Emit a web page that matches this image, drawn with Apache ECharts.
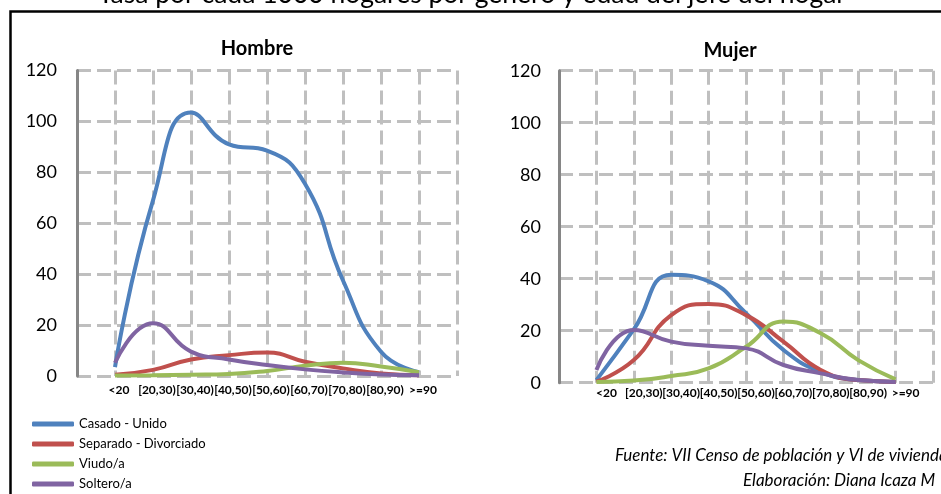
<!DOCTYPE html>
<html>
<head>
<meta charset="utf-8">
<script src="https://cdn.jsdelivr.net/npm/echarts@6/dist/echarts.min.js"></script>
<style>
html,body{margin:0;padding:0;background:#fff;}
#c{width:941px;height:494px;}
</style>
</head>
<body>
<div id="c"></div>
<script>
const mainTitle = 'Tasa por cada 1000 hogares por género y edad del jefe del hogar';
const panelTitles = ['Hombre', 'Mujer'];
const categories = ['<20','[20,30)','[30,40)','[40,50)','[50,60)','[60,70)','[70,80)','[80,90)','>=90'];
const seriesNames = ['Casado - Unido','Separado - Divorciado','Viudo/a','Soltero/a'];
const hombreCasado   = [3.5, 69, 103.5, 91, 88.5, 75.5, 37.5, 9.5, 1.5];
const hombreSeparado = [0.5, 2.4, 6.5, 8.2, 9.2, 5.6, 3, 1, 0.3];
const hombreViudo    = [0.2, 0.3, 0.5, 0.8, 2, 4, 5.2, 3.7, 1.5];
const hombreSoltero  = [5.2, 20.7, 9.6, 6.5, 4.3, 2.6, 1.4, 0.6, 0.3];
const mujerCasado    = [1, 20.5, 41.5, 39, 26.7, 12.6, 4.2, 1, 0.3];
const mujerSeparado  = [0.4, 8.7, 26, 30.3, 26, 15.8, 4.9, 1, 0.3];
const mujerViudo     = [0.3, 0.8, 2.6, 5.5, 13.8, 23.5, 19, 8.7, 1.3];
const mujerSoltero   = [4.9, 20.3, 15.8, 14.2, 13.2, 6.8, 3.6, 1, 0.3];
const sourceLines = ['Fuente: VII Censo de población y VI de vivienda', 'Elaboración: Diana Icaza M'];

const colors = ['#4F81BD','#C0504D','#9BBB59','#8064A2'];
const FONT = 'Lato, "Open Sans", sans-serif';
const gridColor = '#BFBFBF';

const chart = echarts.init(document.getElementById('c'), null, {renderer:'canvas'});

function xAxisFor(gi, pad, margin) {
  return {
    type: 'value', gridIndex: gi, min: 0, max: 10, interval: 1,
    axisLine: {show: false}, axisTick: {show: false},
    splitLine: {show: true, lineStyle: {color: gridColor, width: 3, type: [14, 6]}},
    axisLabel: {
      show: true, margin: margin, color: '#000', fontFamily: FONT, fontWeight: 'bold', fontSize: 12,
      padding: [0, 0, 0, pad],
      formatter: function (v) { return (v >= 1 && v <= categories.length) ? categories[v - 1] : ''; }
    }
  };
}
function yAxisFor(gi, margin) {
  return {
    type: 'value', gridIndex: gi, min: 0, max: 120, interval: 20,
    axisLine: {show: true, lineStyle: {color: '#868686', width: 3}},
    axisTick: {show: false},
    splitLine: {show: true, lineStyle: {color: gridColor, width: 3, type: [14, 6]}},
    axisLabel: {margin: margin, color: '#000', fontFamily: FONT, fontSize: 18}
  };
}
function mk(name, data, gi, ci) {
  return {
    name: name, type: 'line', xAxisIndex: gi, yAxisIndex: gi,
    data: data.map((v, i) => [i + 1, v]),
    smooth: 0.5, symbol: 'none', showSymbol: false,
    lineStyle: {color: colors[ci], width: 4},
    itemStyle: {color: colors[ci]}
  };
}
const hombre = [hombreCasado, hombreSeparado, hombreViudo, hombreSoltero];
const mujer = [mujerCasado, mujerSeparado, mujerViudo, mujerSoltero];
const series = [];
hombre.forEach((d, i) => series.push(mk(seriesNames[i], d, 0, i)));
mujer.forEach((d, i) => series.push(mk(seriesNames[i], d, 1, i)));

chart.setOption({
  animation: false,
  backgroundColor: '#fff',
  textStyle: {fontFamily: FONT},
  title: [
    {text: panelTitles[0], left: 252, top: 44, textAlign: 'center', textVerticalAlign: 'middle',
     textStyle: {fontFamily: FONT, fontWeight: 'bold', fontSize: 20, color: '#000'}},
    {text: panelTitles[1], left: 725, top: 46, textAlign: 'center', textVerticalAlign: 'middle',
     textStyle: {fontFamily: FONT, fontWeight: 'bold', fontSize: 20, color: '#000'}}
  ],
  grid: [
    {left: 77, top: 70.5, width: 380, height: 305.5},
    {left: 559, top: 70.7, width: 374, height: 312}
  ],
  xAxis: [xAxisFor(0, 8, 8), xAxisFor(1, 20, 4)],
  yAxis: [yAxisFor(0, 20), yAxisFor(1, 18)],
  legend: {
    orient: 'vertical', left: 32, top: 417, height: 120, itemWidth: 42, itemHeight: 5, itemGap: 6,
    icon: 'roundRect', padding: 0,
    data: seriesNames,
    textStyle: {fontFamily: FONT, fontSize: 13, color: '#000', lineHeight: 14}
  },
  series: series,
  graphic: [
    {type: 'rect', silent: true, z: 100, shape: {x: 10.5, y: 11.5, width: 1200, height: 1000},
     style: {fill: 'none', stroke: '#000', lineWidth: 2.5}},
    {type: 'text', z: 100, style: {text: mainTitle, x: 472, y: -6, align: 'center', verticalAlign: 'middle',
     font: '26.5px ' + FONT, fill: '#000'}},
    {type: 'text', z: 100, style: {text: sourceLines[0], x: 615, y: 456, align: 'left', verticalAlign: 'middle',
     font: 'italic 17px ' + FONT, fill: '#000'}},
    {type: 'text', z: 100, style: {text: sourceLines[1], x: 743, y: 481, align: 'left', verticalAlign: 'middle',
     font: 'italic 17px ' + FONT, fill: '#000'}}
  ]
});
</script>
</body>
</html>
